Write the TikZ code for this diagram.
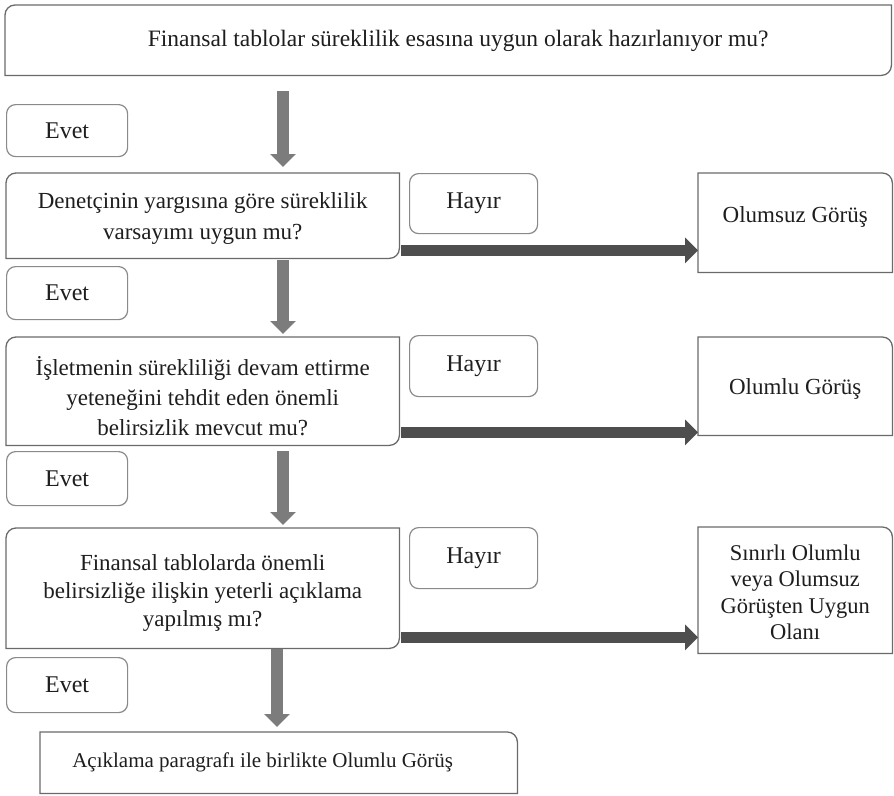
\documentclass[tikz,border=0pt]{standalone}
\usepackage{fontspec}
\setmainfont{Liberation Serif}
\usetikzlibrary{arrows.meta,calc}
\definecolor{boxgray}{HTML}{6A6A6A}
\definecolor{tagGray}{HTML}{8A8A8A}
\definecolor{varrowGray}{HTML}{7C7C7C}
\definecolor{harrowGray}{HTML}{4E4E4E}
\definecolor{txt}{HTML}{1E1E1E}
\newcommand{\rr}{10pt}
% round top-left and bottom-right corners
\newcommand{\diagoutline}[1]{\draw[boxline] (#1.south west) -- ([yshift=-\rr]#1.north west) arc[start angle=180,end angle=90,radius=\rr] -- (#1.north east) -- ([yshift=\rr]#1.south east) arc[start angle=0,end angle=-90,radius=\rr] -- cycle;}
% round top-right corner only
\newcommand{\troutline}[1]{\draw[boxline] (#1.south west) -- (#1.north west) -- ([xshift=-\rr]#1.north east) arc[start angle=90,end angle=0,radius=\rr] -- (#1.south east) -- cycle;}
\newcommand{\bx}[6]{\node[basebox, minimum width=#4-#2, minimum height=#5-#3, #6] (#1) at (#2,-#3) {};}
\tikzset{
  basebox/.style={rectangle, inner sep=0pt, anchor=north west, align=center, text=txt, font=\fontsize{23}{30}\selectfont},
  boxline/.style={draw=boxgray, line width=1.3pt, fill=white},
  tagbox/.style={basebox, draw=tagGray, line width=1.2pt, rounded corners=9pt, fill=white, font=\fontsize{24}{30}\selectfont},
  qtext/.style={align=center, text=txt, font=\fontsize{23}{30}\selectfont},
  rtext/.style={align=center, text=txt, font=\fontsize{23}{27}\selectfont},
  varrow/.style={draw=varrowGray, line width=12pt, -{Triangle[width=25pt,length=13pt]}},
  harrow/.style={draw=harrowGray, line width=11pt, -{Triangle[width=25pt,length=13pt]}},
}
\begin{document}
\begin{tikzpicture}[x=1pt,y=1pt]
\useasboundingbox (0,0) rectangle (894,-795);
% main boxes
\bx{top}{5}{5}{891}{75}{}
\diagoutline{top}
\node[qtext, font=\fontsize{23.5}{30}\selectfont] (toptxt) at ([xshift=10pt,yshift=-1pt]top.center) {Finansal tablolar süreklilik esasına uygun olarak hazırlanıyor mu?};

\bx{q1}{6}{173}{399}{258}{}
\diagoutline{q1}
\node[qtext, font=\fontsize{23}{31}\selectfont] (q1txt) at ([yshift=-3pt]q1.center) {Denetçinin yargısına göre süreklilik\\varsayımı uygun mu?};

\bx{q2}{6}{337}{399}{445}{}
\diagoutline{q2}
\node[qtext] (q2txt) at ([yshift=-5pt]q2.center) {İşletmenin sürekliliği devam ettirme\\yeteneğini tehdit eden önemli\\belirsizlik mevcut mu?};

\bx{q3}{6}{528}{399}{648}{}
\diagoutline{q3}
\node[qtext, font=\fontsize{23}{28}\selectfont] (q3txt) at ([yshift=-5pt]q3.center) {Finansal tablolarda önemli\\belirsizliğe ilişkin yeterli açıklama\\yapılmış mı?};

% result boxes
\bx{r1}{698}{173}{892}{272}{}
\troutline{r1}
\node[rtext] (r1txt) at ([yshift=6pt]r1.center) {Olumsuz Görüş};

\bx{r2}{698}{337}{892}{435}{}
\troutline{r2}
\node[rtext] (r2txt) at ([yshift=-3pt]r2.center) {Olumlu Görüş};

\bx{r3}{698}{527}{892}{653}{}
\troutline{r3}
\node[rtext, font=\fontsize{22.5}{26.5}\selectfont] (r3txt) at ([yshift=-2pt]r3.center) {Sınırlı Olumlu\\veya Olumsuz\\Görüşten Uygun\\Olanı};

\bx{fin}{40}{732}{517}{793}{}
\troutline{fin}
\node[rtext, font=\fontsize{21}{26}\selectfont] (fintxt) at ([xshift=-16pt]fin.center) {Açıklama paragrafı ile birlikte Olumlu Görüş};

% tags
\node[tagbox, minimum width=121pt, minimum height=52pt] (e1) at (6,-104) {Evet};
\node[tagbox, minimum width=121pt, minimum height=53pt] (e2) at (6,-266) {Evet};
\node[tagbox, minimum width=121pt, minimum height=54pt] (e3) at (6,-451) {Evet};
\node[tagbox, minimum width=121pt, minimum height=55pt] (e4) at (6,-657) {Evet};
\node[tagbox, minimum width=128pt, minimum height=60pt] (h1) at (409,-173) {Hayır};
\node[tagbox, minimum width=128pt, minimum height=61pt] (h2) at (409,-335) {Hayır};
\node[tagbox, minimum width=128pt, minimum height=61pt] (h3) at (409,-527) {Hayır};

% vertical arrows
\coordinate (c1) at (283,0);
\coordinate (c4) at (277,0);
\draw[varrow] ([yshift=-16pt]top.south -| c1) -- ([yshift=6pt]q1.north -| c1);
\draw[varrow] ([yshift=-2pt]q1.south -| c1) -- ([yshift=3pt]q2.north -| c1);
\draw[varrow] ([yshift=-6pt]q2.south -| c1) -- ([yshift=3pt]q3.north -| c1);
\draw[varrow] ([yshift=-1pt]q3.south -| c4) -- ([yshift=5pt]fin.north -| c4);

% horizontal arrows
\draw[harrow] ([shift={(2pt,8pt)}]q1.south east) -- ([yshift=8pt]q1.south east -| r1.west);
\draw[harrow] ([shift={(2pt,13pt)}]q2.south east) -- ([yshift=13pt]q2.south east -| r2.west);
\draw[harrow] ([shift={(2pt,11pt)}]q3.south east) -- ([yshift=11pt]q3.south east -| r3.west);
\end{tikzpicture}
\end{document}
